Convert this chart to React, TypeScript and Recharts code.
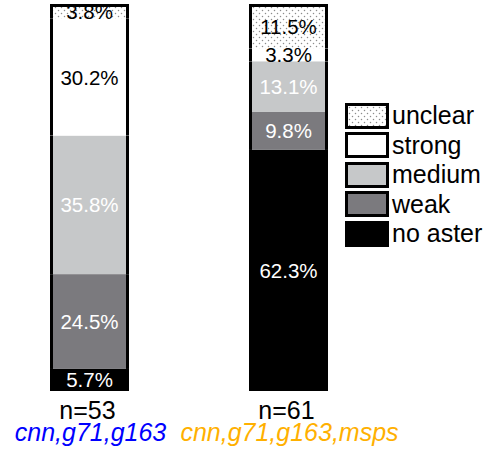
import React from "react";
import { BarChart, Bar, XAxis, YAxis, LabelList } from "recharts";

// values in percent, per column
const categories = ["n=53", "n=61"];
const groupLabels = ["cnn,g71,g163", "cnn,g71,g163,msps"];
const groupColors = ["#0000ff", "#ffb000"];

const noAster = [5.7, 62.3];
const weak = [24.5, 9.8];
const medium = [35.8, 13.1];
const strong = [30.2, 3.3];
const unclear = [3.8, 11.5];

const W = 491;
const H = 454;
const FONT = "'Liberation Sans', Arial, Helvetica, sans-serif";

const data = categories.map((c, i) => ({
  name: c,
  group: groupLabels[i],
  none: noAster[i],
  weak: weak[i],
  medium: medium[i],
  strong: strong[i],
  unclear: unclear[i],
}));

// bottom of the stack first
const series = [
  { key: "none", label: "no aster", fill: "#000000", text: "#ffffff" },
  { key: "weak", label: "weak", fill: "#7b7a7e", text: "#ffffff" },
  { key: "medium", label: "medium", fill: "#c6c8c9", text: "#ffffff" },
  { key: "strong", label: "strong", fill: "#ffffff", text: "#000000" },
  { key: "unclear", label: "unclear", fill: "url(#dots)", text: "#000000" },
];

const makeShape = (isTop: boolean, isBottom: boolean) => (props: any) => {
  const { x, y, width, height, fill } = props;
  if (!height) return <g />;
  return (
    <g>
      <rect x={x} y={y} width={width} height={height} fill={fill} />
      <line x1={x + 1.5} x2={x + 1.5} y1={y} y2={y + height} stroke="#000" strokeWidth={3} />
      <line x1={x + width - 1.5} x2={x + width - 1.5} y1={y} y2={y + height} stroke="#000" strokeWidth={3} />
      {isTop && <line x1={x} x2={x + width} y1={y + 1.5} y2={y + 1.5} stroke="#000" strokeWidth={3} />}
      {isBottom && <line x1={x} x2={x + width} y1={y + height - 1} y2={y + height - 1} stroke="#000" strokeWidth={2} />}
    </g>
  );
};

const makeLabel = (color: string) => (props: any) => {
  const { x, y, width, height, value } = props;
  return (
    <text
      x={x + width / 2}
      y={y + height / 2}
      textAnchor="middle"
      dominantBaseline="central"
      fill={color}
      fontSize={20.5}
      fontFamily={FONT}
    >
      {value.toFixed(1)}%
    </text>
  );
};

const Tick = (props: any) => {
  const { x, payload, index } = props;
  return (
    <g>
      <text x={x - 2} y={H - 35} textAnchor="middle" fontSize={25} fontFamily={FONT} fill="#000">
        {payload.value}
      </text>
      <text
        x={x + 1}
        y={H - 13}
        textAnchor="middle"
        fontSize={25}
        fontStyle="italic"
        fontFamily={FONT}
        fill={groupColors[index]}
      >
        {groupLabels[index]}
      </text>
    </g>
  );
};

const LegendBox = () => (
  <div
    style={{
      position: "absolute",
      left: 345,
      top: 101,
      fontFamily: FONT,
      fontSize: 25,
      lineHeight: "25px",
    }}
  >
    {[...series].reverse().map((s) => (
      <div key={s.key} style={{ display: "flex", alignItems: "center", height: 29.5 }}>
        <svg width={44} height={26} style={{ display: "block" }}>
          <rect x={1.5} y={1.5} width={41} height={23} fill={s.fill} stroke="#000" strokeWidth={3} />
        </svg>
        <span style={{ marginLeft: 3, color: "#000" }}>{s.label}</span>
      </div>
    ))}
  </div>
);

export default function App() {
  return (
    <div style={{ position: "absolute", left: 0, top: 0, width: W, height: H, background: "#fff" }}>
      <BarChart
        width={W}
        height={H}
        data={data}
        margin={{ top: 4, right: 103, left: -10, bottom: 3 }}
        barSize={79}
      >
        <defs>
          <pattern id="dots" width="6" height="6" patternUnits="userSpaceOnUse">
            <rect width="6" height="6" fill="#ffffff" />
            <circle cx="1.5" cy="1.5" r="0.75" fill="#8c8c8c" />
            <circle cx="4.5" cy="4.5" r="0.75" fill="#8c8c8c" />
          </pattern>
        </defs>
        <XAxis dataKey="name" axisLine={false} tickLine={false} height={60} tick={<Tick />} interval={0} />
        <YAxis hide domain={[0, 100]} />
        {series.map((s, i) => (
          <Bar
            key={s.key}
            dataKey={s.key}
            stackId="a"
            fill={s.fill}
            isAnimationActive={false}
            shape={makeShape(i === series.length - 1, i === 0)}
          >
            <LabelList dataKey={s.key} content={makeLabel(s.text)} />
          </Bar>
        ))}
      </BarChart>
      <LegendBox />
    </div>
  );
}
